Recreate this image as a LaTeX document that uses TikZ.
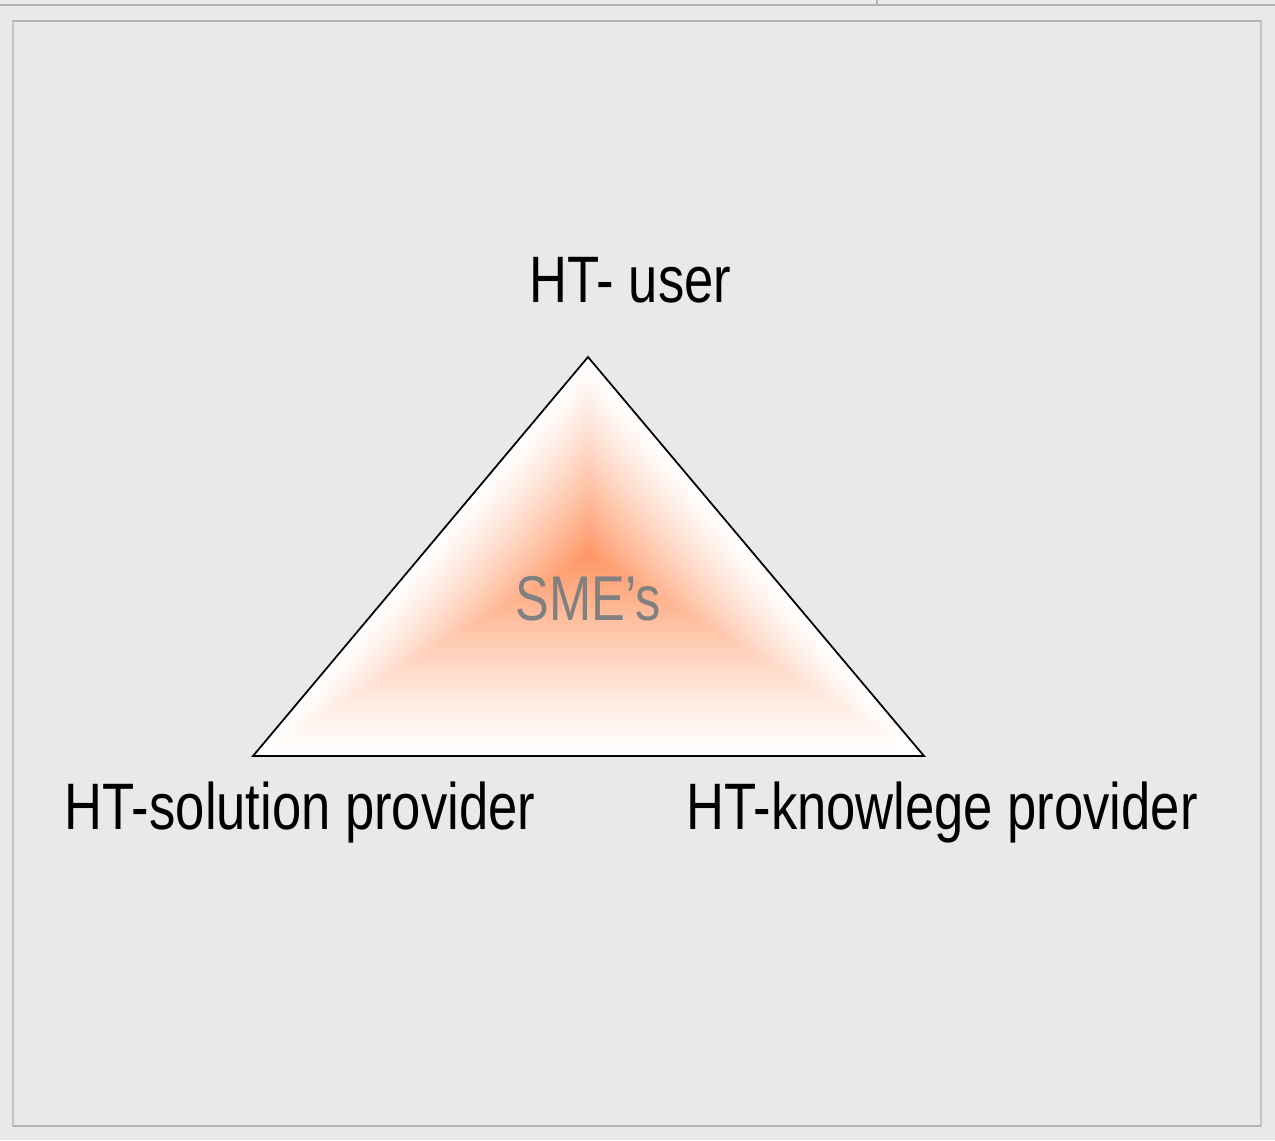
\documentclass[tikz,border=0pt]{standalone}
\usepackage{fontspec}
\setmainfont{Liberation Sans}[FakeStretch=0.80]
\usetikzlibrary{calc}
\definecolor{bgc}{HTML}{E9E9E9}
\definecolor{framec}{HTML}{B4B4B4}
\definecolor{framelight}{HTML}{C4C4C4}
\definecolor{smec}{RGB}{255,150,100}
\definecolor{smetext}{HTML}{808080}
\tikzset{
  label/.style={inner sep=0pt, anchor=base, font=\fontsize{37.4}{40}\selectfont, text=black},
  centerlabel/.style={inner sep=0pt, anchor=base, font=\fontsize{36}{39}\selectfont, text=smetext},
  tri/.style={draw=black, line width=1pt, line join=miter}
}
\begin{document}
\begin{tikzpicture}[x=0.02cm, y=-0.02cm]
\useasboundingbox (0,0) rectangle (1275,1140);
\fill[bgc] (0,0) rectangle (1275,1140);
% top line and tick
\draw[framec, line width=1.6pt] (0,5) -- (1275,5);
\draw[framec, line width=0.8pt] (877,0) -- (877,5);
% inner frame
\draw[framelight, line width=0.8pt] (13,21) rectangle (1261,1126);
\draw[framec, line width=1.4pt] (13,21) -- (1261,21);
\draw[framec, line width=1.4pt] (13,1126) -- (1261,1126);
% triangle vertices
\coordinate (A) at (588,357);
\coordinate (B) at (253,756);
\coordinate (C) at (924,756);
\coordinate (O) at (588.5,556.5);
\fill[white] (A) -- (B) -- (C) -- cycle;
\foreach \i in {1,...,120}{
  \pgfmathsetmacro\s{1-\i/120}
  \pgfmathsetmacro\pct{100*pow(\i/120,1.25)}
  \fill[smec!\pct!white] ($(O)!\s!(A)$) -- ($(O)!\s!(B)$) -- ($(O)!\s!(C)$) -- cycle;
}
\draw[tri] (A) -- (B) -- (C) -- cycle;
% labels
\node[label] (user) at (630.5,302) {HT- user};
\node[label] (solution) at (300,829) {HT-solution provider};
\node[label] (knowledge) at (942,829) {HT-knowlege provider};
\node[centerlabel] (sme) at (588.5,620) {SME’s};
\end{tikzpicture}
\end{document}
